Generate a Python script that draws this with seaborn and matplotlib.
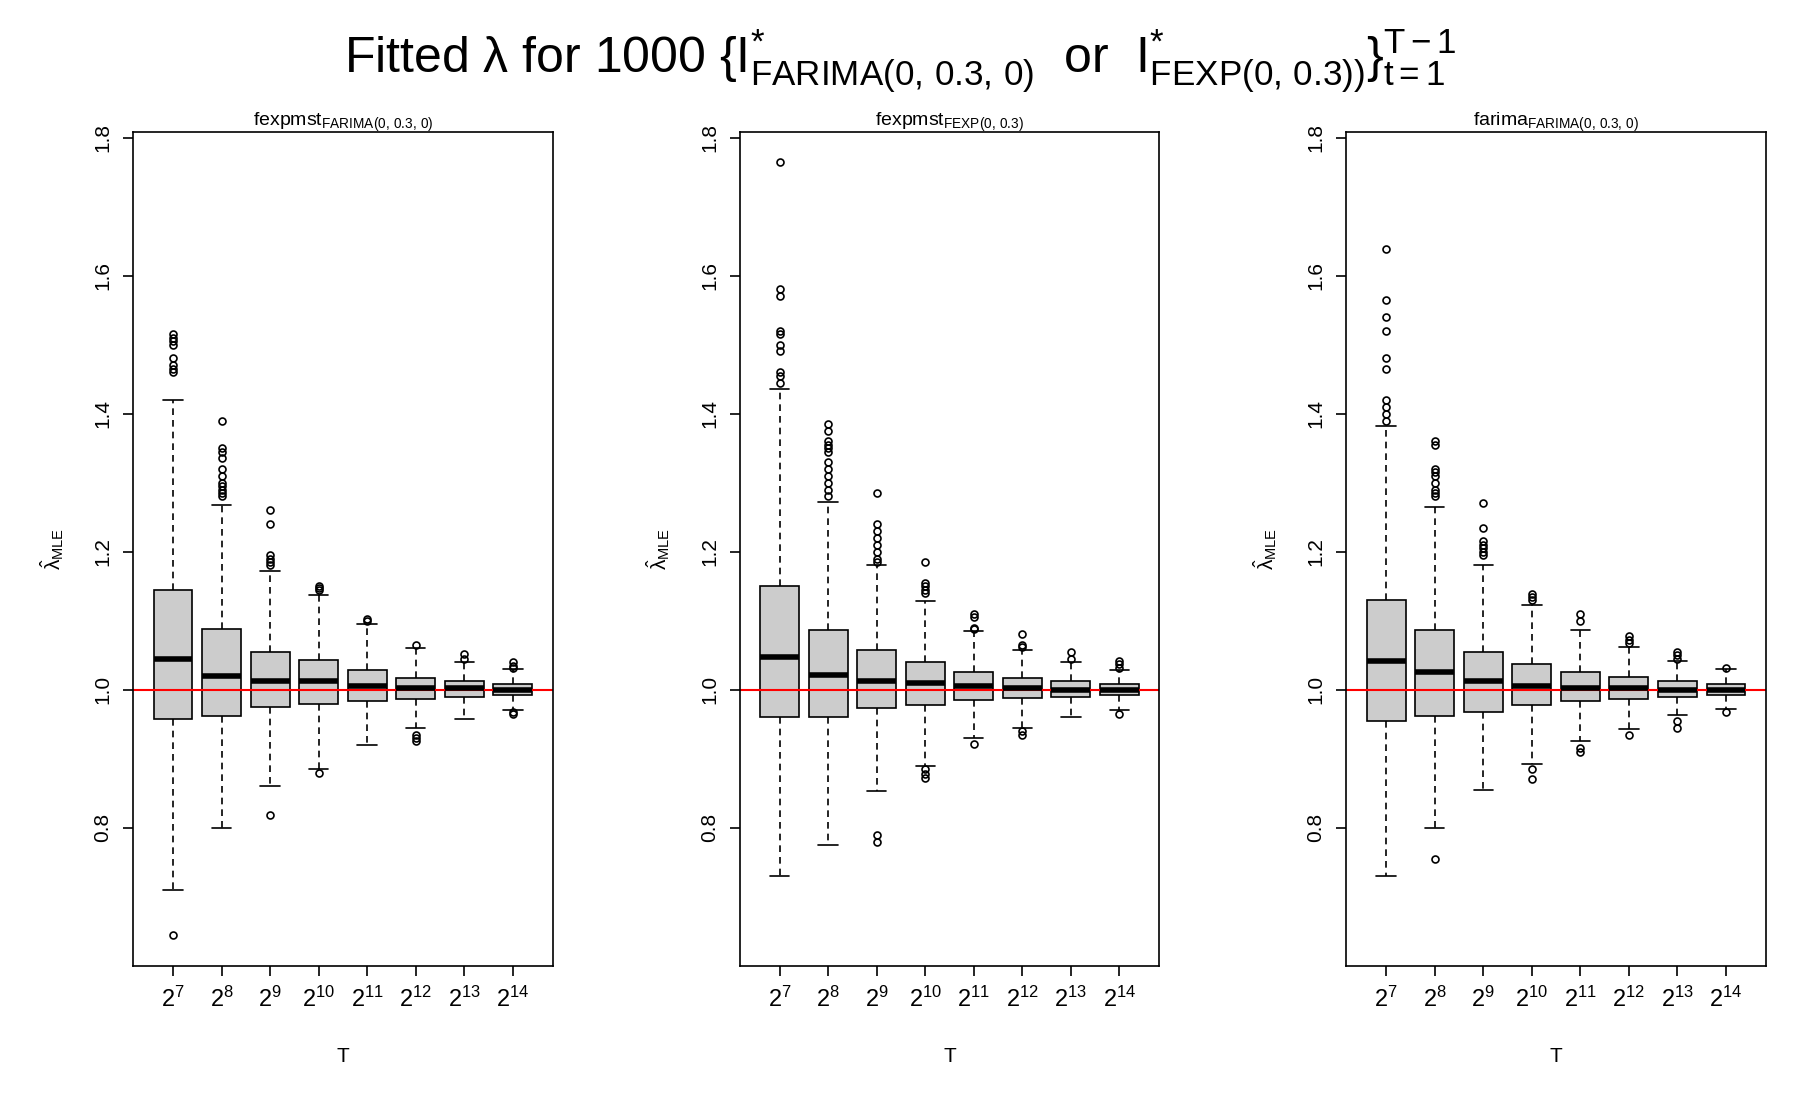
import matplotlib
matplotlib.use('Agg')
import matplotlib.pyplot as plt
import seaborn as sns

sns.set_style("white")
plt.rcParams['font.family'] = ['Liberation Sans', 'DejaVu Sans']
plt.rcParams['mathtext.fontset'] = 'custom'
plt.rcParams['mathtext.rm'] = 'Liberation Sans'
plt.rcParams['mathtext.it'] = 'Liberation Sans'
plt.rcParams['text.color'] = 'black'
plt.rcParams['axes.labelcolor'] = 'black'
plt.rcParams['xtick.color'] = 'black'
plt.rcParams['ytick.color'] = 'black'

T_labels = ['$2^{7}$', '$2^{8}$', '$2^{9}$', '$2^{10}$', '$2^{11}$', '$2^{12}$', '$2^{13}$', '$2^{14}$']
titles = ['fexpmst$_{\\mathrm{FARIMA(0,\\,0.3,\\,0)}}$',
          'fexpmst$_{\\mathrm{FEXP(0,\\,0.3)}}$',
          'farima$_{\\mathrm{FARIMA(0,\\,0.3,\\,0)}}$']

# (whislo, q1, med, q3, whishi)
stats_fexpmst_farima = [
    (0.71, 0.958, 1.045, 1.145, 1.42), (0.80, 0.962, 1.02, 1.088, 1.268),
    (0.86, 0.975, 1.013, 1.055, 1.172), (0.885, 0.98, 1.012, 1.043, 1.137),
    (0.92, 0.983, 1.005, 1.028, 1.095), (0.945, 0.987, 1.003, 1.017, 1.06),
    (0.958, 0.99, 1.002, 1.012, 1.04), (0.97, 0.993, 1.0, 1.008, 1.03)]
out_fexpmst_farima = [
    [1.46, 1.465, 1.47, 1.48, 1.50, 1.505, 1.51, 1.515, 0.645],
    [1.28, 1.285, 1.29, 1.295, 1.30, 1.31, 1.32, 1.335, 1.345, 1.35, 1.39],
    [1.18, 1.185, 1.19, 1.195, 1.24, 1.26, 0.818],
    [1.145, 1.148, 1.15, 0.88], [1.10, 1.103],
    [1.065, 0.935, 0.93, 0.925], [1.045, 1.052],
    [1.032, 1.035, 1.04, 0.967, 0.965]]

stats_fexpmst_fexp = [
    (0.73, 0.96, 1.048, 1.15, 1.435), (0.775, 0.96, 1.022, 1.087, 1.272),
    (0.853, 0.973, 1.013, 1.057, 1.18), (0.89, 0.978, 1.01, 1.04, 1.128),
    (0.93, 0.985, 1.005, 1.025, 1.085), (0.945, 0.988, 1.003, 1.017, 1.058),
    (0.96, 0.99, 1.0, 1.012, 1.04), (0.97, 0.993, 1.0, 1.008, 1.028)]
out_fexpmst_fexp = [
    [1.445, 1.455, 1.46, 1.49, 1.50, 1.515, 1.52, 1.57, 1.58, 1.765],
    [1.28, 1.29, 1.30, 1.31, 1.32, 1.33, 1.345, 1.35, 1.355, 1.36, 1.375, 1.385],
    [1.185, 1.19, 1.20, 1.21, 1.22, 1.23, 1.24, 1.285, 0.79, 0.78],
    [1.14, 1.145, 1.15, 1.155, 1.185, 0.885, 0.878, 0.872],
    [1.088, 1.09, 1.105, 1.11, 0.922], [1.062, 1.065, 1.08, 0.94, 0.935],
    [1.045, 1.055], [1.032, 1.037, 1.042, 0.965]]

stats_farima_farima = [
    (0.73, 0.955, 1.042, 1.13, 1.382), (0.80, 0.962, 1.025, 1.087, 1.265),
    (0.855, 0.968, 1.013, 1.055, 1.18), (0.893, 0.978, 1.005, 1.037, 1.123),
    (0.925, 0.983, 1.003, 1.025, 1.087), (0.943, 0.987, 1.003, 1.018, 1.062),
    (0.963, 0.99, 1.0, 1.012, 1.042), (0.972, 0.993, 1.0, 1.008, 1.03)]
out_farima_farima = [
    [1.39, 1.40, 1.41, 1.42, 1.465, 1.48, 1.52, 1.54, 1.565, 1.638],
    [1.28, 1.285, 1.29, 1.30, 1.31, 1.315, 1.32, 1.355, 1.36, 0.755],
    [1.195, 1.20, 1.205, 1.21, 1.215, 1.235, 1.27],
    [1.13, 1.135, 1.138, 0.885, 0.87], [1.10, 1.11, 0.915, 0.91],
    [1.068, 1.072, 1.078, 0.935], [1.045, 1.05, 1.055, 0.955, 0.945],
    [1.032, 0.968]]

panels = [(stats_fexpmst_farima, out_fexpmst_farima),
          (stats_fexpmst_fexp, out_fexpmst_fexp),
          (stats_farima_farima, out_farima_farima)]

fig = plt.figure(figsize=(18, 11), dpi=100)
lefts = [0.074, 0.411, 0.748]
for k, (st, outs) in enumerate(panels):
    ax = fig.add_axes([lefts[k], 0.122, 0.233, 0.758])
    bxp = []
    for (lo, q1, med, q3, hi), fl in zip(st, outs):
        bxp.append(dict(whislo=lo, q1=q1, med=med, q3=q3, whishi=hi, fliers=fl))
    ax.bxp(bxp, positions=range(1, 9), widths=0.8, patch_artist=True,
           boxprops=dict(facecolor='#cccccc', edgecolor='black', linewidth=1.2),
           medianprops=dict(color='black', linewidth=4, solid_capstyle='butt'),
           whiskerprops=dict(linestyle=(0, (4, 3)), linewidth=1.2),
           capprops=dict(linewidth=1.2), capwidths=0.4,
           flierprops=dict(marker='o', markersize=5, markerfacecolor='none',
                           markeredgecolor='black', markeredgewidth=1.2))
    ax.axhline(1.0, color='red', linewidth=1.5)
    ax.set_xlim(0.18, 8.82)
    ax.set_ylim(0.6, 1.808)
    ax.set_yticks([0.8, 1.0, 1.2, 1.4, 1.6, 1.8])
    ax.set_yticklabels(['0.8', '1.0', '1.2', '1.4', '1.6', '1.8'], rotation=90, va='center', fontsize=15)
    ax.set_xticks(range(1, 9))
    ax.set_xticklabels(T_labels, fontsize=17)
    ax.tick_params(direction='out', length=7, width=1.2, left=True, bottom=True, pad=8)
    for s in ax.spines.values():
        s.set_linewidth(1.2)
        s.set_color('black')
    ax.set_xlabel('T', fontsize=15, labelpad=25)
    ax.set_ylabel('$\\hat{\\lambda}_{\\mathrm{MLE}}$', fontsize=15, labelpad=20)
    ax.set_title(titles[k], fontsize=14, pad=4)

fig.suptitle('Fitted $\\lambda$ for 1000 $\\{\\mathrm{I}^{*}_{\\mathrm{FARIMA(0,\\,0.3,\\,0)}}$  or  '
             '$\\mathrm{I}^{*}_{\\mathrm{FEXP(0,\\,0.3))}}\\}_{t=1}^{T-1}$',
             fontsize=36, y=0.975)
fig.savefig('out.png', dpi=100)
